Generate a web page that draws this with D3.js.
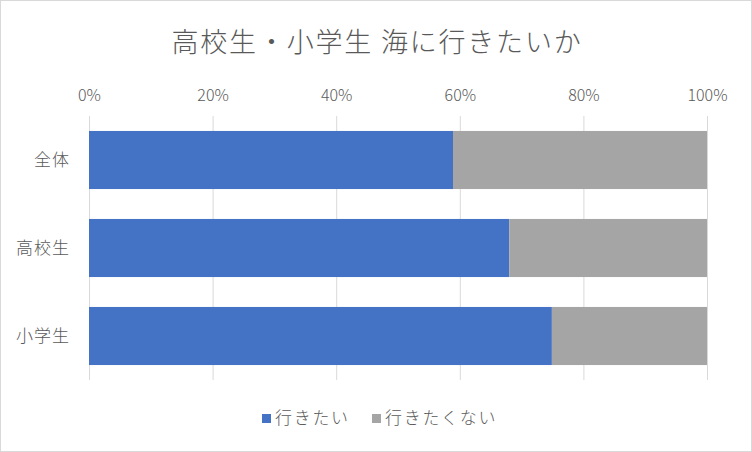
<!DOCTYPE html>
<html><head><meta charset="utf-8">
<script src="https://cdn.jsdelivr.net/npm/d3@7"></script>
<style>body{margin:0;background:#fff}svg{display:block}text{font-family:"Noto Sans CJK JP","Noto Sans",sans-serif;fill:#595959;font-weight:300}</style>
</head><body><svg id="c" width="752" height="452"></svg>
<script>
const categories = ["全体","高校生","小学生"];
const seriesNames = ["行きたい","行きたくない"];
const want = [58.9, 68.0, 74.9];
const notWant = [41.1, 32.0, 25.1];
const tickValues = [0,20,40,60,80,100];
const colors = ["#4472C4","#A5A5A5"];
const title = "高校生・小学生 海に行きたいか";

(function(){
const svg = d3.select("#c");
svg.append("rect").attr("x",0.5).attr("y",0.5).attr("width",751).attr("height",451).attr("fill","#fff").attr("stroke","#d9d9d9");
const pl=89, pr=707, pt=116, pb=380;
const x = d3.scaleLinear().domain([0,100]).range([pl,pr]);
const y = d3.scaleBand().domain(categories).range([pt,pb]).paddingInner(0.34).paddingOuter(0.17);

svg.append("text").attr("x",377).attr("y",52).attr("text-anchor","middle").style("font-size","27px").style("letter-spacing","1.8px").text(title);

svg.append("g").selectAll("line").data(tickValues).join("line")
 .attr("x1",d=>x(d)+0.5).attr("x2",d=>x(d)+0.5).attr("y1",pt).attr("y2",pb)
 .attr("stroke","#d9d9d9").attr("stroke-width",1);

const axisTop = d3.axisTop(x).tickValues(tickValues).tickFormat(d=>d+"%").tickSize(0).tickPadding(0);
const ax = svg.append("g").attr("transform",`translate(0,101)`).call(axisTop);
ax.select(".domain").remove();
ax.attr("font-family",null).attr("font-size",null);
ax.selectAll("text").style("font-size","16px").style("fill","#595959");

const rows = categories.map((c,i)=>({c, v:[want[i],notWant[i]]}));
rows.forEach(r=>{
  let acc=0;
  r.v.forEach((v,j)=>{
    svg.append("rect").attr("x",x(acc)).attr("y",y(r.c)).attr("width",x(acc+v)-x(acc)).attr("height",y.bandwidth()).attr("fill",colors[j]);
    acc+=v;
  });
});

svg.selectAll("text.cat").data(categories).join("text").attr("class","cat")
 .attr("x",70).attr("y",d=>y(d)+y.bandwidth()/2+6).attr("text-anchor","end").style("font-size","17px").style("letter-spacing","1px").text(d=>d);

const legend = [{n:seriesNames[0],c:colors[0],x:262},{n:seriesNames[1],c:colors[1],x:372}];
legend.forEach(l=>{
  svg.append("rect").attr("x",l.x).attr("y",414).attr("width",9).attr("height",9).attr("fill",l.c);
  svg.append("text").attr("x",l.x+13).attr("y",424).style("font-size","17px").style("letter-spacing","1.7px").text(l.n);
});
})();
</script></body></html>
